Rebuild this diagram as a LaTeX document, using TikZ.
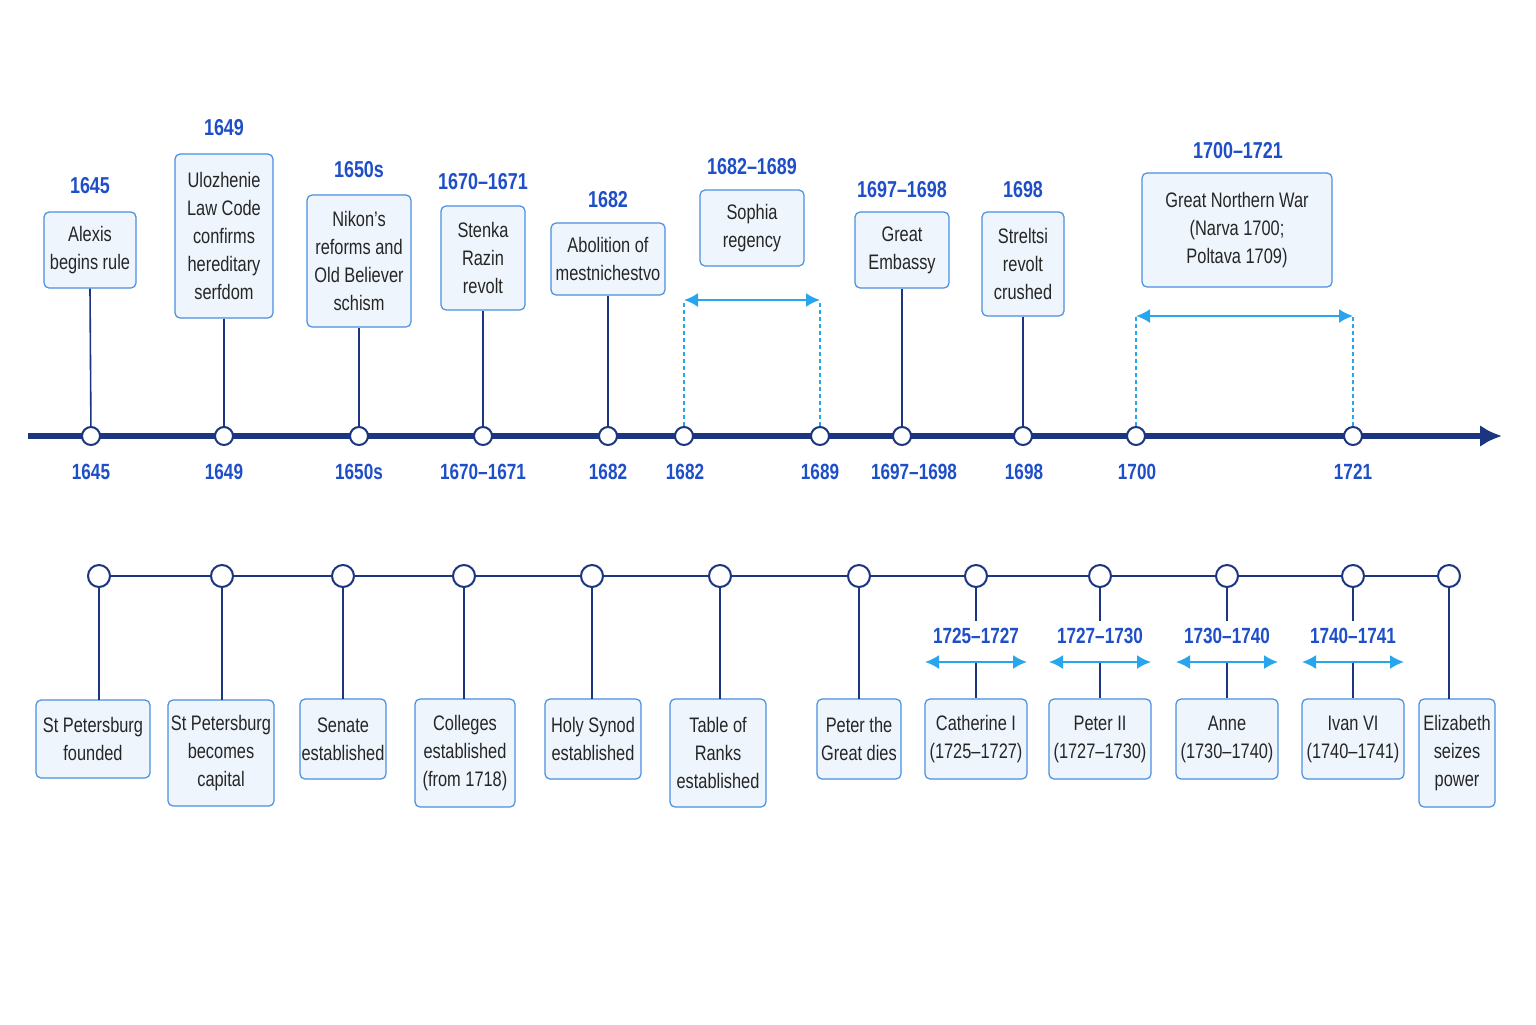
\documentclass[tikz,border=0pt]{standalone}
\usepackage{fontspec}
\setmainfont{Liberation Sans}[FakeStretch=0.78]
\usetikzlibrary{arrows.meta}
\definecolor{navy}{HTML}{1C3580}
\definecolor{yr}{HTML}{1F4FC8}
\definecolor{cy}{HTML}{27A6EE}
\definecolor{bfill}{HTML}{EEF5FD}
\definecolor{bdraw}{HTML}{4A8FE0}
\begin{document}
\begin{tikzpicture}[x=0.5pt,y=-0.5pt,
 box/.style={draw=bdraw,fill=bfill,rounded corners=2.5pt,line width=0.6pt,align=center,font=\fontsize{10.5}{14}\selectfont,text=black!85,inner sep=0pt},
 year/.style={text=yr,font=\fontsize{11.5}{13}\selectfont\bfseries},
 dot/.style={circle,draw=navy,fill=white,line width=1pt,minimum size=9pt,inner sep=0pt},
 bdot/.style={circle,draw=navy,fill=white,line width=1pt,minimum size=11pt,inner sep=0pt},
 stem/.style={draw=navy,line width=0.8pt},
 rng/.style={draw=cy,line width=1pt,{Latex[length=7pt,width=7pt]}-{Latex[length=7pt,width=7pt]}},
 dots/.style={draw=cy,line width=0.7pt,dash pattern=on 2pt off 1.5pt}]
\useasboundingbox (0,0) rectangle (1536,1024);
\fill[white] (0,0) rectangle (1536,1024);
% top axis
\coordinate (a0) at (28,436); \coordinate (a1) at (1502,436);
\draw[navy,line width=3pt,-{Latex[length=11pt,width=11pt]}] (a0) -- (a1);
\foreach \n/\x/\bx/\by/\w/\h/\ly/\yt/\txt in {
 t1/91/90/250/92/76/186/1645/{Alexis\\begins rule},
 t2/224/224/236/98/164/128/1649/{Ulozhenie\\Law Code\\confirms\\hereditary\\serfdom},
 t3/359/359/261/104/132/170/1650s/{Nikon’s\\reforms and\\Old Believer\\schism},
 t4/483/483/258/84/104/182/1670–1671/{Stenka\\Razin\\revolt},
 t5/608/608/259/114/72/200/1682/{Abolition of\\mestnichestvo},
 t6/902/902/250/94/76/190/1697–1698/{Great\\Embassy},
 t7/1023/1023/264/82/104/190/1698/{Streltsi\\revolt\\crushed}}{
 \node[box,minimum width=\w*0.5pt,minimum height=\h*0.5pt] (\n b) at (\bx,\by) {\txt};
 \node[year] (\n y) at (\bx,\ly) {\yt};
 \node[dot] (\n d) at (\x,436) {};
 \draw[stem] (\n b.south) -- (\n d);
}
\foreach \n/\x/\t in {l1/91/1645,l2/224/1649,l3/359/1650s,l4/483/1670–1671,l5/608/1682,l6/685/1682,l7/820/1689,l8/914/1697–1698,l9/1024/1698,l10/1137/1700,l11/1353/1721}
 \node[year,font=\fontsize{11}{13}\selectfont\bfseries] (\n) at (\x,472) {\t};
% ranges
\node[dot] (r1a) at (684,436) {}; \node[dot] (r1b) at (820,436) {};
\coordinate (r1c) at (684,300); \coordinate (r1e) at (820,300);
\draw[dots] (r1a) -- (r1c); \draw[dots] (r1b) -- (r1e); \draw[rng] (r1c) -- (r1e);
\node[box,minimum width=52pt,minimum height=38pt] (r1box) at (752,228) {Sophia\\regency};
\node[year] (r1y) at (752,167) {1682–1689};
\node[dot] (r2a) at (1136,436) {}; \node[dot] (r2b) at (1353,436) {};
\coordinate (r2c) at (1136,316); \coordinate (r2e) at (1353,316);
\draw[dots] (r2a) -- (r2c); \draw[dots] (r2b) -- (r2e); \draw[rng] (r2c) -- (r2e);
\node[box,minimum width=95pt,minimum height=57pt] (r2box) at (1237,230) {Great Northern War\\(Narva 1700;\\Poltava 1709)};
\node[year] (r2y) at (1238,151) {1700–1721};
% bottom line
\coordinate (b0) at (99,576); \coordinate (b1) at (1449,576);
\draw[navy,line width=1.2pt] (b0) -- (b1);
\foreach \n/\x/\bx/\by/\w/\h/\txt in {
 s1/99/93/739/114/78/{St Petersburg\\founded},
 s2/222/221/753/106/106/{St Petersburg\\becomes\\capital},
 s3/343/343/739/86/80/{Senate\\established},
 s4/464/465/753/100/108/{Colleges\\established\\(from 1718)},
 s5/592/593/739/96/80/{Holy Synod\\established},
 s6/720/718/753/96/108/{Table of\\Ranks\\established},
 s7/859/859/739/84/80/{Peter the\\Great dies},
 s8/1449/1457/753/76/108/{Elizabeth\\seizes\\power}}{
 \node[box,minimum width=\w*0.5pt,minimum height=\h*0.5pt] (\n b) at (\bx,\by) {\txt};
 \node[bdot] (\n d) at (\x,576) {};
 \draw[stem] (\n d) -- (\x,\by-\h/2) coordinate (\n e);
}
\foreach \n/\x/\yt/\txt in {
 q1/976/1725–1727/{Catherine I\\(1725–1727)},
 q2/1100/1727–1730/{Peter II\\(1727–1730)},
 q3/1227/1730–1740/{Anne\\(1730–1740)},
 q4/1353/1740–1741/{Ivan VI\\(1740–1741)}}{
 \node[box,minimum width=51pt,minimum height=40pt] (\n b) at (\x,739) {\txt};
 \node[bdot] (\n d) at (\x,576) {};
 \node[year,font=\fontsize{11}{13}\selectfont\bfseries] (\n y) at (\x,636) {\yt};
 \coordinate (\n l) at (\x-51,662); \coordinate (\n r) at (\x+51,662);
 \coordinate (\n m) at (\x,662);
 \draw[stem] (\n d) -- (\n y.north);
 \draw[stem] (\n m) -- (\n b.north);
 \draw[rng] (\n l) -- (\n r);
}
\end{tikzpicture}
\end{document}
